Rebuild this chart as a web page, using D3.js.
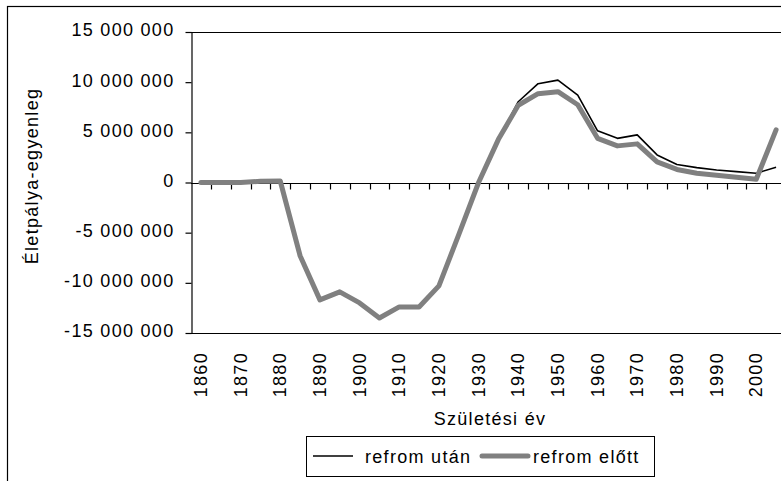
<!DOCTYPE html>
<html>
<head>
<meta charset="utf-8">
<script src="https://cdn.jsdelivr.net/npm/d3@7"></script>
<style>
  body { margin: 0; background: #fff; }
  svg { display: block; }
  text { font-family: "Liberation Sans", Arial, sans-serif; font-size: 18px; letter-spacing: 1.3px; fill: #000; }
</style>
</head>
<body>
<div id="chart"></div>
<script>
// Születési évek (5 éves kohorszok)
const years = [1860, 1865, 1870, 1875, 1880, 1885, 1890, 1895, 1900, 1905,
               1910, 1915, 1920, 1925, 1930, 1935, 1940, 1945, 1950, 1955,
               1960, 1965, 1970, 1975, 1980, 1985, 1990, 1995, 2000, 2005];

// refrom után (fekete vonal)
const utan = [0, 0, 0, 120000, 150000, -7300000, -11700000, -10900000, -12000000, -13500000,
              -12400000, -12400000, -10300000, -5200000, 0, 4300000, 8050000, 9850000, 10200000, 8700000,
              5150000, 4400000, 4750000, 2750000, 1800000, 1480000, 1250000, 1080000, 920000, 1520000];

// refrom előtt (szürke vastag vonal)
const elott = [0, 0, 0, 120000, 150000, -7300000, -11700000, -10900000, -12000000, -13500000,
               -12400000, -12400000, -10300000, -5200000, 0, 4300000, 7700000, 8850000, 9050000, 7750000,
               4400000, 3650000, 3850000, 2050000, 1300000, 920000, 720000, 520000, 320000, 5250000];

const yTicks = [-15000000, -10000000, -5000000, 0, 5000000, 10000000, 15000000];
const xLabelYears = [1860, 1870, 1880, 1890, 1900, 1910, 1920, 1930, 1940, 1950, 1960, 1970, 1980, 1990, 2000];

const W = 781, H = 481;
const plot = { left: 191, right: 786, top: 32, bottom: 333 };

const svg = d3.select("#chart").append("svg")
    .attr("width", W)
    .attr("height", H);

// külső keret (jobbra/lent kilóg a képből)
svg.append("rect")
    .attr("x", 7.5).attr("y", 6.5)
    .attr("width", 820).attr("height", 520)
    .attr("fill", "none").attr("stroke", "#000").attr("stroke-width", 1.2);

const x = d3.scaleBand()
    .domain(years)
    .range([plot.left, plot.right])
    .padding(0);

const y = d3.scaleLinear()
    .domain([-15000000, 15000000])
    .range([plot.bottom, plot.top]);

const bw = x.bandwidth();

// rajzterület kerete
svg.append("line")
    .attr("x1", plot.left).attr("x2", plot.right + 10)
    .attr("y1", plot.top + 0.5).attr("y2", plot.top + 0.5)
    .attr("stroke", "#000").attr("stroke-width", 1.2);
svg.append("line")
    .attr("x1", plot.left).attr("x2", plot.right + 10)
    .attr("y1", plot.bottom + 0.5).attr("y2", plot.bottom + 0.5)
    .attr("stroke", "#000").attr("stroke-width", 1.2);

// Y tengely
const fmt = d3.formatLocale({ decimal: ",", thousands: " ", grouping: [3], currency: ["", ""], minus: "-" }).format(",d");

const yAxis = svg.append("g")
    .attr("transform", `translate(${plot.left + 0.5},0)`)
    .call(d3.axisLeft(y).tickValues(yTicks).tickSize(6).tickSizeOuter(0).tickPadding(11).tickFormat(fmt));
yAxis.select(".domain").attr("stroke-width", 1.2);
yAxis.selectAll(".tick line").attr("stroke-width", 1.2);
yAxis.selectAll(".tick text")
    .attr("font-size", null).attr("font-family", null)
    .attr("dy", "0.22em");
yAxis.attr("font-size", null).attr("font-family", null);

// X tengely a nulla szinten, kategória határokon lévő osztásokkal
const y0 = Math.round(y(0)) + 0.5;
svg.append("line")
    .attr("x1", plot.left).attr("x2", plot.right + 10)
    .attr("y1", y0).attr("y2", y0)
    .attr("stroke", "#000").attr("stroke-width", 1.2);

svg.append("g").selectAll("line")
    .data(years.slice(1))
    .enter().append("line")
    .attr("x1", d => Math.round(x(d)) + 0.5)
    .attr("x2", d => Math.round(x(d)) + 0.5)
    .attr("y1", y0).attr("y2", y0 + 6)
    .attr("stroke", "#000").attr("stroke-width", 1.2);

// évszám feliratok alul, elforgatva
svg.append("g").selectAll("text")
    .data(xLabelYears)
    .enter().append("text")
    .attr("transform", d => `translate(${x(d) + bw / 2 + 6},${plot.bottom + 19}) rotate(-90)`)
    .attr("text-anchor", "end")
    .text(d => d);

// vonalak
const line = d3.line()
    .x((d, i) => x(years[i]) + bw / 2)
    .y(d => y(d));

svg.append("path")
    .datum(utan)
    .attr("d", line)
    .attr("fill", "none")
    .attr("stroke", "#000")
    .attr("stroke-width", 1.6)
    .attr("stroke-linejoin", "round");

svg.append("path")
    .datum(elott)
    .attr("d", line)
    .attr("fill", "none")
    .attr("stroke", "#808080")
    .attr("stroke-width", 5)
    .attr("stroke-linejoin", "round")
    .attr("stroke-linecap", "round");

// tengelycímek
svg.append("text")
    .attr("x", 490).attr("y", 425)
    .attr("text-anchor", "middle")
    .text("Születési év");

svg.append("text")
    .attr("transform", "translate(38,176) rotate(-90)")
    .attr("text-anchor", "middle")
    .text("Életpálya-egyenleg");

// jelmagyarázat
const legend = svg.append("g");
legend.append("rect")
    .attr("x", 306.5).attr("y", 436.5)
    .attr("width", 348).attr("height", 40)
    .attr("fill", "#fff").attr("stroke", "#000").attr("stroke-width", 1);
legend.append("line")
    .attr("x1", 313).attr("x2", 353).attr("y1", 456).attr("y2", 456)
    .attr("stroke", "#000").attr("stroke-width", 1.6);
legend.append("text")
    .attr("x", 365).attr("y", 463)
    .text("refrom után");
legend.append("line")
    .attr("x1", 482).attr("x2", 528).attr("y1", 456).attr("y2", 456)
    .attr("stroke", "#808080").attr("stroke-width", 5).attr("stroke-linecap", "round");
legend.append("text")
    .attr("x", 533).attr("y", 463)
    .text("refrom előtt");
</script>
</body>
</html>
